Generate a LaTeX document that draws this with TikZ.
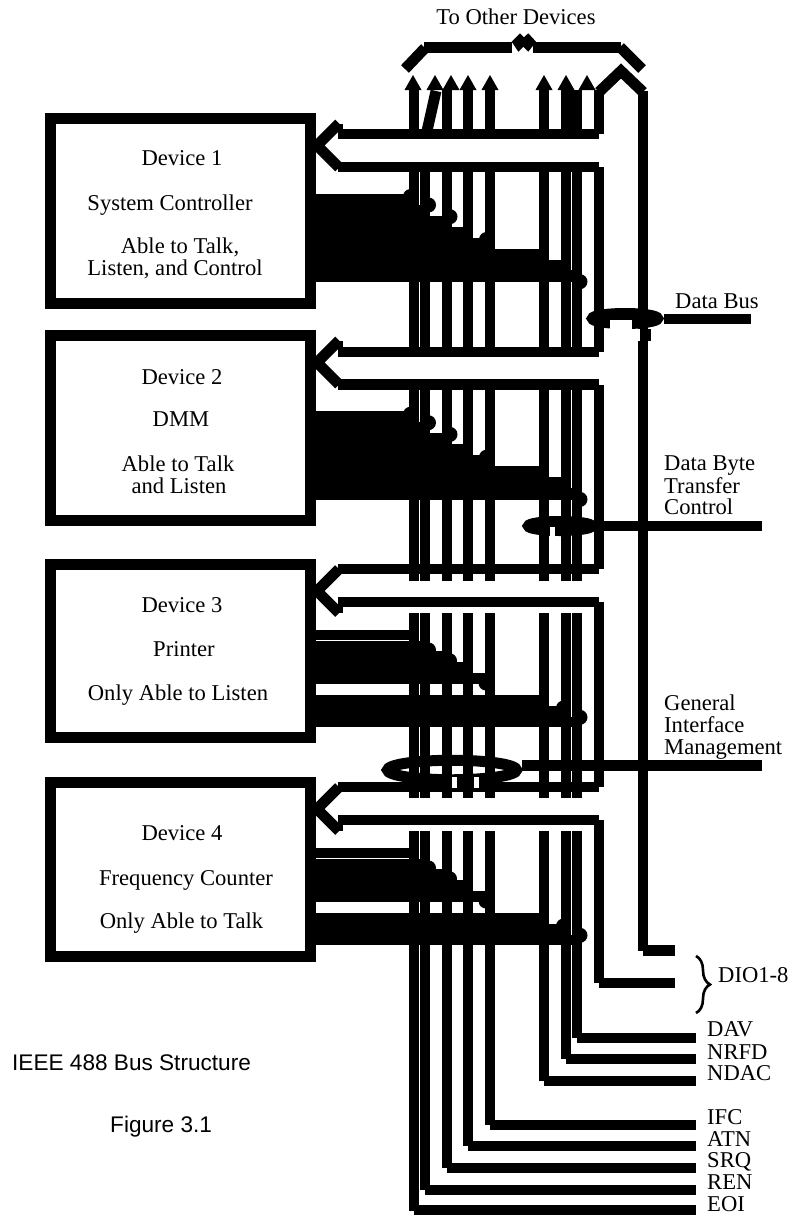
\documentclass[tikz,border=0pt]{standalone}
\usepackage{fontspec}
\setmainfont{Liberation Serif}
\newfontfamily\headfont{Liberation Sans}
\usetikzlibrary{decorations.pathreplacing}
\tikzset{
    busline/.style={line width=10.9pt, line cap=butt, line join=miter},
    solidline/.style={line width=11.6pt, line cap=butt},
    stackline/.style={line width=10.6pt, line cap=butt},
    devbox/.style={draw, line width=11pt, fill=white, inner sep=0pt},
    lbl/.style={font=\fontsize{22.6}{22.6}\selectfont, inner sep=0pt, anchor=base},
    lblw/.style={lbl, anchor=base west},
    headlbl/.style={font=\headfont\fontsize{22.6}{22.6}\selectfont, inner sep=0pt, anchor=base west}
}
\begin{document}
\begin{tikzpicture}[x=1pt, y=-1pt]
    \useasboundingbox (0,0) rectangle (793,1215);

    % talk and listen stacks, devices 1 and 2
    \foreach \dy in {0,217.7} {
        \foreach \yy/\xe in {199.5/414, 210.5/425, 221.5/447, 232.5/468, 243.5/490, 254.5/544, 265.5/566, 276/577}
            \draw [solidline] (316,\yy+\dy) -- (\xe,\yy+\dy);
        \foreach \xd/\yd in {410.5/196.5, 428.5/205, 450/216.7, 486.5/239.5, 580/281.7}
            \fill (\xd,\yd+\dy) circle (7.5pt);
    }
    % stacks of devices 3 and 4
    \foreach \dy in {0,218} {
        \foreach \yy/\xe in {634.8/414, 645.8/425, 656.7/447, 667.7/468, 678.6/490, 700.7/544, 711.3/566, 722/577}
            \draw [stackline] (316,\yy+\dy) -- (\xe,\yy+\dy);
        \foreach \xd/\yd in {428.5/650, 449.5/660.7, 486/683, 563.5/708, 580/717.3}
            \fill (\xd,\yd+\dy) circle (7.5pt);
    }

    % device boxes
    \node (dev1) [devbox, minimum width=260pt, minimum height=185pt] at (180.5,210.5) {};
    \node (dev2) [devbox, minimum width=260pt, minimum height=185pt] at (180.5,428) {};
    \node (dev3) [devbox, minimum width=260pt, minimum height=173pt] at (180.5,651) {};
    \node (dev4) [devbox, minimum width=260pt, minimum height=174pt] at (180.5,869.5) {};

    % bus ellipses
    \draw [line width=11pt] (625,318.5) ellipse (32.5pt and 5pt);
    \draw [line width=11pt] (560,526) ellipse (31.5pt and 4.5pt);
    \draw [line width=11pt] (452,770) ellipse (64.5pt and 9.75pt);

    % device ports
    \foreach \yu/\yl/\ytip/\ytop/\yend in {134/167/145.5/167/352, 352/384.5/362.5/384.5/569, 569/602/591/602/787, 787/820/809/820/983} {
        \draw [busline] (338,\yu) -- (599,\yu);
        \draw [busline] (338,\yl) -- (599,\yl);
        \draw [busline] (339,\ytip-22) -- (317,\ytip) -- (339,\ytip+22);
        \draw [busline] (599,\ytop) -- (599,\yend);
    }
    % short stubs beside the port tips
    \fill (338,124) rectangle (343,130);
    \fill (338,341) rectangle (343,347);
    \fill (338,607) rectangle (343,613);
    \fill (338,825) rectangle (343,831);

    % white gaps where the ellipses cross
    \fill [white] (610,320) rectangle (632,330);
    \fill [white] (632,329) rectangle (643,341);
    \fill [white] (550,527) rectangle (555,537);
    \fill [white] (452.3,777) rectangle (456.7,788);
    \fill [white] (474,777) rectangle (479,788);

    % bus verticals
    \foreach \xb in {414,425,447,468,490,544,566,577} {
        \draw [busline] (\xb,167) -- (\xb,352);
        \draw [busline] (\xb,384.5) -- (\xb,580.5);
        \draw [busline] (\xb,613) -- (\xb,798);
    }
    \foreach \xb in {414,447,468,490,544,566,577}
        \draw [busline] (\xb,90) -- (\xb,134);
    \fill (566,90) rectangle (577,134);
    \draw [busline] (427,131) -- (436,91);
    \draw [busline] (599,90) -- (599,134);
    \draw [busline] (643,91) -- (643,329);
    \draw [busline] (645.7,329) -- (645.7,341);
    \draw [busline] (643,341) -- (643,950.7);
    \draw [busline] (643,950.7) -- (675,950.7);
    \draw [busline] (599,983) -- (675,983);

    % outgoing lines to the signal labels
    \foreach \xb/\yb in {414/1210.5, 425/1190, 447/1168, 468/1146, 490/1125, 544/1081, 566/1059, 577/1038} {
        \draw [busline] (\xb,831) -- (\xb,\yb);
        \draw [busline] (\xb,\yb) -- (696,\yb);
    }

    % arrows at the top
    \foreach \xa in {413,435,451,468,490,544,566,587}
        \fill (\xa-8.5,90) -- (\xa,75) -- (\xa+8.5,90) -- cycle;
    \draw [busline] (599,92) -- (621,71) -- (643,92);

    % bracket
    \draw [busline] (405,69) -- (425,48);
    \draw [busline] (424,47.5) -- (512,47.5);
    \draw [busline] (533,47.5) -- (621,47.5);
    \draw [busline] (620,47) -- (642,69);
    \fill (511.7,41.7) -- (520,33.3) -- (524,37.3) -- (528.3,33.3) -- (536,41.7) -- (528.3,51.7) -- (523.3,46.7) -- (518.3,51.7) -- cycle;

    % group lines
    \draw [busline] (664,319) -- (751,319);
    \draw [busline] (596,526) -- (762,526);
    \draw [busline] (522,765.7) -- (762,765.7);

    \draw [decorate, decoration={brace, amplitude=14pt}, line width=2.6pt] (696,956) -- (696,1013);

    % texts
    \node (top) [lbl] at (516,25) {To Other Devices};
    \node (d1a) [lbl] at (182,165) {Device 1};
    \node (d1b) [lbl] at (170,210) {System Controller};
    \node (d1c) [lbl] at (180,253) {Able to Talk,};
    \node (d1d) [lbl] at (175,275) {Listen, and Control};
    \node (d2a) [lbl] at (182,384) {Device 2};
    \node (d2b) [lbl] at (181,426) {DMM};
    \node (d2c) [lbl] at (178,471) {Able to Talk};
    \node (d2d) [lbl] at (179,493) {and Listen};
    \node (d3a) [lbl] at (182,612) {Device 3};
    \node (d3b) [lbl] at (184,656) {Printer};
    \node (d3c) [lbl] at (178,700) {Only Able to Listen};
    \node (d4a) [lbl] at (182,840) {Device 4};
    \node (d4b) [lbl] at (186,885) {Frequency Counter};
    \node (d4c) [lbl] at (181.5,928) {Only Able to Talk};
    \node (data) [lblw] at (675,308) {Data Bus};
    \node (dbta) [lblw] at (664,470) {Data Byte};
    \node (dbtb) [lblw] at (664,493) {Transfer};
    \node (dbtc) [lblw] at (664,514) {Control};
    \node (gima) [lblw] at (664,710) {General};
    \node (gimb) [lblw] at (664,732) {Interface};
    \node (gimc) [lblw] at (664,754) {Management};
    \node (dio) [lblw] at (718,982) {DIO1-8};
    \node (dav) [lblw] at (707,1036) {DAV};
    \node (nrfd) [lblw] at (707,1059) {NRFD};
    \node (ndac) [lblw] at (707,1080) {NDAC};
    \node (ifc) [lblw] at (707,1124) {IFC};
    \node (atn) [lblw] at (707,1146) {ATN};
    \node (srq) [lblw] at (707,1167) {SRQ};
    \node (ren) [lblw] at (707,1189) {REN};
    \node (eoi) [lblw] at (707,1211) {EOI};
    \node (title) [headlbl] at (12,1070) {IEEE 488 Bus Structure};
    \node (fig) [headlbl] at (110,1132) {Figure 3.1};
\end{tikzpicture}
\end{document}
